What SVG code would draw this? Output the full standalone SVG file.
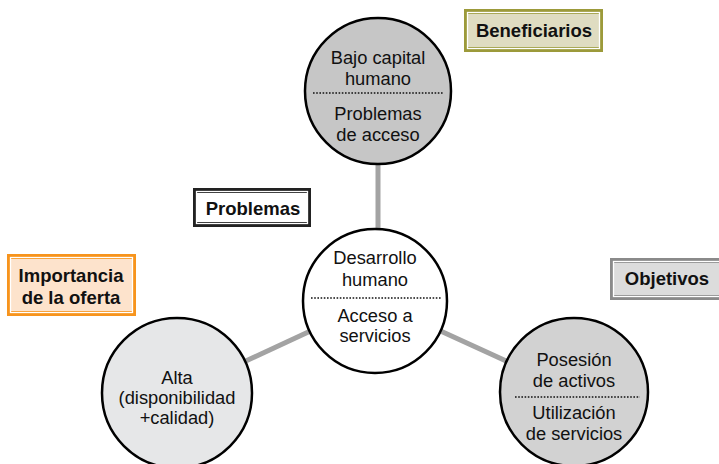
<svg xmlns="http://www.w3.org/2000/svg" width="719" height="464" viewBox="0 0 719 464">
<style>
.t{font-family:"Liberation Sans",Arial,sans-serif;font-size:18.3px;fill:#111;text-anchor:middle}
.b{font-family:"Liberation Sans",Arial,sans-serif;font-size:18.5px;font-weight:bold;fill:#111;text-anchor:middle}
.c{stroke:#000;stroke-width:2.5}
.dot{stroke:#111;stroke-width:1.6;stroke-dasharray:1.6 1.6;fill:none}
.conn{stroke:#a3a3a3;stroke-width:5;fill:none}
.wl{fill:none;stroke:#fff;stroke-width:1.3}
</style>
<rect width="719" height="464" fill="#fff"/>
<g id="connectors">
<line class="conn" x1="378" y1="160" x2="378" y2="232"/>
<line class="conn" x1="375" y1="301" x2="177" y2="393"/>
<line class="conn" x1="375" y1="301" x2="574" y2="392"/>
</g>
<g id="node-top">
<circle class="c" cx="378" cy="91" r="73" fill="#c6c6c6"/>
<text class="t" x="378" y="64">Bajo capital</text>
<text class="t" x="378" y="85">humano</text>
<line class="dot" x1="313" y1="93" x2="443" y2="93"/>
<text class="t" x="378" y="120">Problemas</text>
<text class="t" x="378" y="141">de acceso</text>
</g>
<g id="node-center">
<circle class="c" cx="375" cy="301" r="72" fill="#fff"/>
<text class="t" x="375" y="264">Desarrollo</text>
<text class="t" x="375" y="286">humano</text>
<line class="dot" x1="311" y1="298" x2="441" y2="298"/>
<text class="t" x="375" y="322">Acceso a</text>
<text class="t" x="375" y="342">servicios</text>
</g>
<g id="node-left">
<circle class="c" cx="177" cy="393" r="75" fill="#e6e7e8"/>
<text class="t" x="177" y="384">Alta</text>
<text class="t" x="177" y="404">(disponibilidad</text>
<text class="t" x="177" y="424">+calidad)</text>
</g>
<g id="node-right">
<circle class="c" cx="574" cy="392" r="74" fill="#d2d2d2"/>
<text class="t" x="574" y="366">Posesión</text>
<text class="t" x="574" y="387">de activos</text>
<line class="dot" x1="515" y1="397" x2="640" y2="397"/>
<text class="t" x="574" y="419">Utilización</text>
<text class="t" x="574" y="440">de servicios</text>
</g>
<g id="label-beneficiarios">
<rect x="464" y="9" width="139" height="43" fill="#9c9a3a"/>
<rect x="467" y="14" width="133" height="33" fill="#dfdcc1"/>
<rect class="wl" x="467.5" y="12.5" width="132" height="36"/>
<text class="b" x="534" y="37">Beneficiarios</text>
</g>
<g id="label-problemas">
<rect x="193" y="188" width="118" height="39" fill="#222"/>
<rect x="196" y="193" width="112" height="29" fill="#fff"/>
<rect class="wl" x="196.5" y="191.5" width="111" height="32"/>
<text class="b" x="253" y="215">Problemas</text>
</g>
<g id="label-importancia">
<rect x="7" y="254" width="129" height="62" fill="#f7941d"/>
<rect x="10" y="259" width="123" height="52" fill="#fde3cc"/>
<rect class="wl" x="10.5" y="257.5" width="122" height="55"/>
<text class="b" x="71" y="282">Importancia</text>
<text class="b" x="71" y="304">de la oferta</text>
</g>
<g id="label-objetivos">
<rect x="610" y="258" width="112" height="42" fill="#8a8a8a"/>
<rect x="613" y="263" width="109" height="32" fill="#dcdcdc"/>
<rect class="wl" x="613.5" y="261.5" width="110" height="35"/>
<text class="b" x="667" y="285">Objetivos</text>
</g>
</svg>
